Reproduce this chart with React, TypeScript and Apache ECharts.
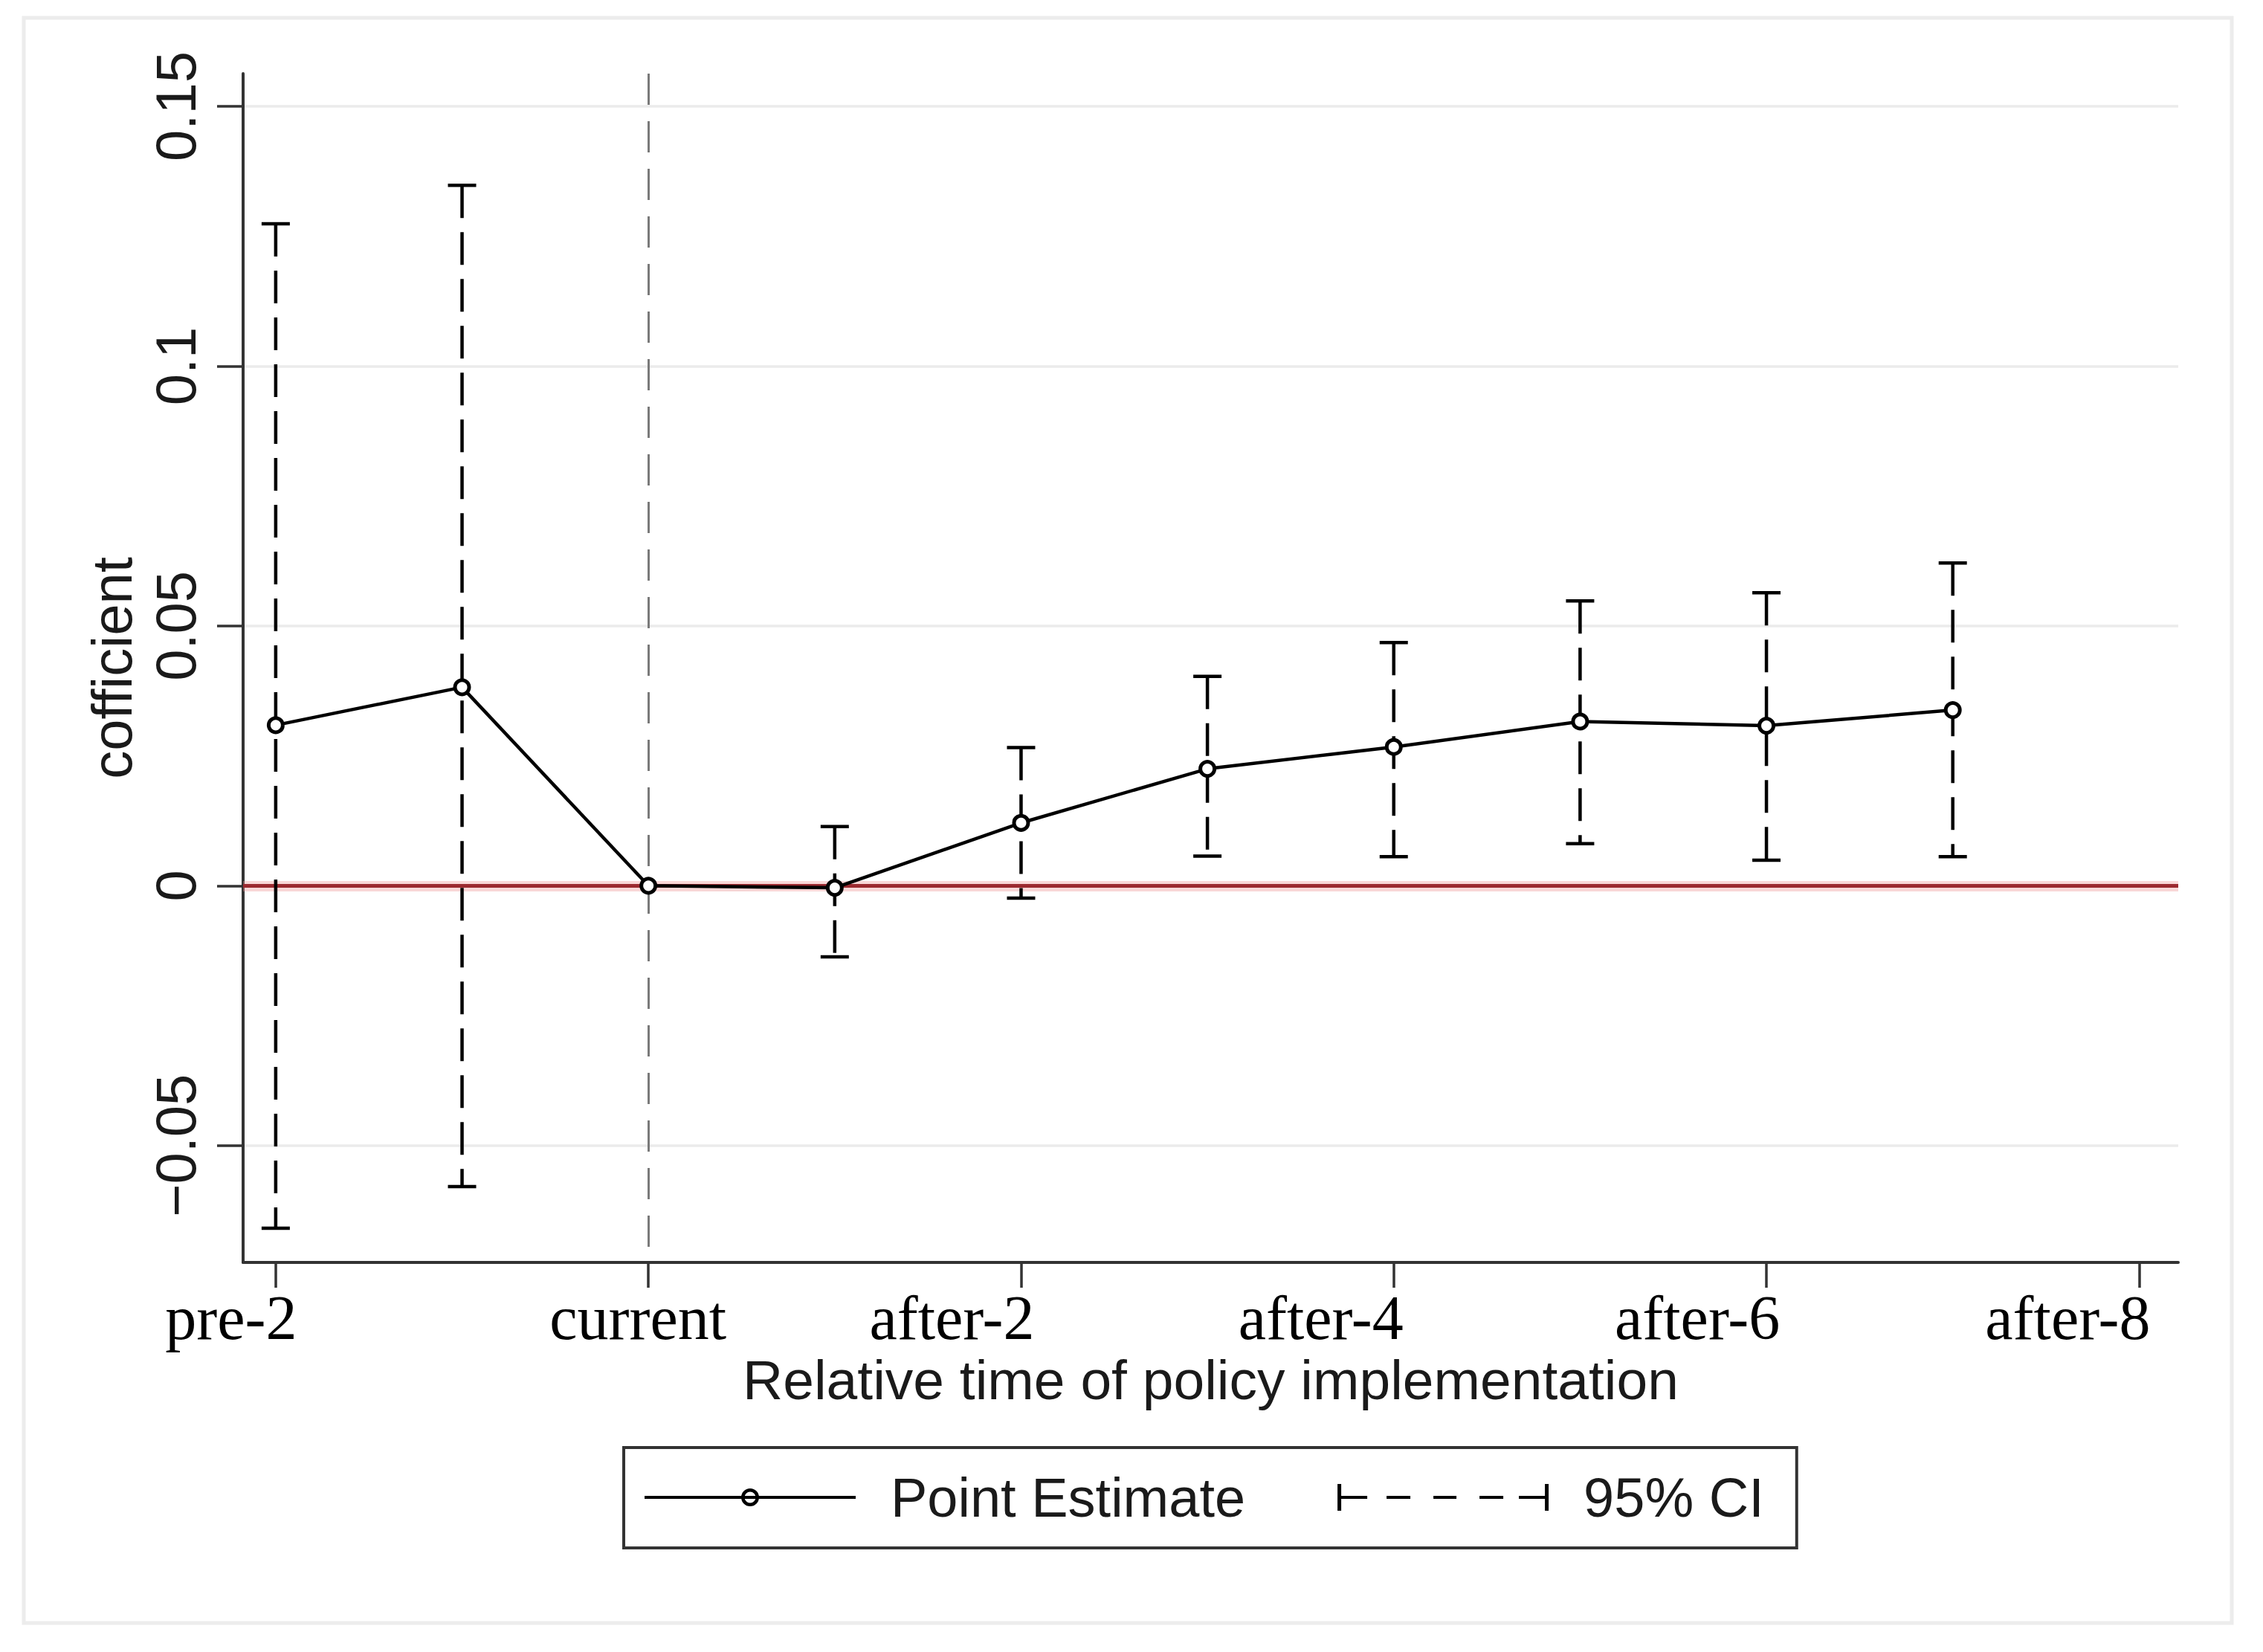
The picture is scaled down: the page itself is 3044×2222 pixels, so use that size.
import React, { useEffect, useRef } from "react";
import * as echarts from "echarts";

// ---- data ----
const periods = [-2, -1, 0, 1, 2, 3, 4, 5, 6, 7];
const pointEstimates = [0.0309, 0.0382, 0, -0.0004, 0.0121, 0.0225, 0.0267, 0.0316, 0.0308, 0.0338];
const ciPeriods = [-2, -1, 1, 2, 3, 4, 5, 6, 7];
const ciLower = [-0.0659, -0.0579, -0.0137, -0.0024, 0.0057, 0.0056, 0.0081, 0.0049, 0.0056];
const ciUpper = [0.1274, 0.1348, 0.0114, 0.0266, 0.0403, 0.0468, 0.0548, 0.0564, 0.0621];
const xTickValues = [-2, 0, 2, 4, 6, 8];
const xTickLabels = ["pre-2", "current", "after-2", "after-4", "after-6", "after-8"];
const yTickValues = [-0.05, 0, 0.05, 0.1, 0.15];
const yTickLabels = ["\u22120.05", "0", "0.05", "0.1", "0.15"];
const xRange = [-2.175, 8.21];
const yRange = [-0.0725, 0.1563];
const policyTime = 0;
const zeroEffect = 0;

// ---- styling ----
const SANS = "'Liberation Sans', Arial, sans-serif";
const SERIF = "'Liberation Serif', 'Times New Roman', serif";
const TEXT = "#1a1a1a";
const AXIS = "#333333";
const xLabelShift = [-60, -14, -93, -98, -93, -96];

const pePath =
  "path://M0 0L0.01 0L0 0.01Z M0 36L0.01 36L0 35.99Z M0 16H284V20H0Z " +
  "M130 18A12 12 0 1 1 154 18A12 12 0 1 1 130 18Z M134.5 18A7.5 7.5 0 1 0 149.5 18A7.5 7.5 0 1 0 134.5 18Z";
const ciPath =
  "path://M0 0H5V36H0Z M0 16H40V20H0Z M66 16H98V20H66Z M129 16H160V20H129Z " +
  "M191 16H223V20H191Z M244 16H284V20H244Z M279 0H284V36H279Z";

function findIdx(arr: number[], v: number) {
  return arr.findIndex((t) => Math.abs(t - v) < 1e-9);
}

const xRich: Record<string, any> = {};
xTickLabels.forEach((_, i) => {
  const s = xLabelShift[i];
  xRich["s" + i] = {
    fontFamily: SERIF,
    fontSize: 84,
    lineHeight: 84,
    color: "#000",
    padding: s < 0 ? [0, -2 * s, 0, 0] : [0, 0, 0, 2 * s],
  };
});

export default function App() {
  const ref = useRef<HTMLDivElement>(null);
  useEffect(() => {
    document.body.style.margin = "0";
    const chart = echarts.init(ref.current!, null, { renderer: "svg" });
    const option: any = {
      animation: false,
      backgroundColor: "#ffffff",
      color: ["#000000"],
      grid: { left: 327, right: 114, top: 99, bottom: 524, containLabel: false, outerBoundsMode: "none" },
      graphic: [
        {
          type: "rect",
          silent: true,
          z: -10,
          shape: { x: 32, y: 24, width: 2970, height: 2159 },
          style: { fill: "none", stroke: "#ececec", lineWidth: 5 },
        },
      ],
      legend: {
        show: true,
        orient: "horizontal",
        left: 839,
        top: 1947,
        padding: [27, 44, 28, 28],
        borderColor: AXIS,
        borderWidth: 4,
        backgroundColor: "#fff",
        itemWidth: 284,
        itemHeight: 36,
        itemGap: 124,
        selectedMode: false,
        textStyle: {
          fontFamily: SANS,
          fontSize: 74,
          color: TEXT,
          lineHeight: 80,
          padding: [0, 0, 0, 42],
        },
        data: [
          { name: "Point Estimate", icon: pePath, itemStyle: { color: "#000", borderWidth: 0, borderColor: "transparent" } },
          { name: "95% CI", icon: ciPath, itemStyle: { color: "#000", borderWidth: 0, borderColor: "transparent" } },
        ],
      },
      xAxis: {
        type: "value",
        min: xRange[0],
        max: xRange[1],
        name: "Relative time of policy implementation",
        nameLocation: "middle",
        nameGap: 119,
        nameTextStyle: { fontFamily: SANS, fontSize: 75, lineHeight: 75, color: TEXT },
        axisLine: { show: true, onZero: false, lineStyle: { color: AXIS, width: 4 } },
        axisTick: { show: true, customValues: xTickValues, length: 34, lineStyle: { color: AXIS, width: 3.5 } },
        axisLabel: {
          show: true,
          customValues: xTickValues,
          margin: 32,
          formatter: (v: number) => {
            const i = findIdx(xTickValues, v);
            return i >= 0 ? `{s${i}|${xTickLabels[i]}}` : "";
          },
          rich: xRich,
          fontFamily: SERIF,
          fontSize: 84,
          color: "#000",
        },
        splitLine: { show: false },
      },
      yAxis: {
        type: "value",
        min: yRange[0],
        max: yRange[1],
        name: "cofficient",
        nameLocation: "middle",
        nameGap: 139,
        nameRotate: 90,
        nameTextStyle: { fontFamily: SANS, fontSize: 76, lineHeight: 76, color: TEXT },
        axisLine: { show: true, onZero: false, lineStyle: { color: AXIS, width: 4 } },
        axisTick: { show: true, customValues: yTickValues, length: 35, lineStyle: { color: AXIS, width: 3.5 } },
        axisLabel: {
          show: true,
          customValues: yTickValues,
          rotate: 90,
          margin: 53,
          fontFamily: SANS,
          fontSize: 76,
          lineHeight: 76,
          color: TEXT,
          formatter: (v: number) => {
            const i = findIdx(yTickValues, v);
            return i >= 0 ? yTickLabels[i] : "";
          },
        },
        splitLine: { show: true, lineStyle: { color: "#ebebeb", width: 3.5 } },
      },
      series: [
        {
          type: "line",
          name: "reference",
          data: [],
          silent: true,
          z: 1,
          markLine: {
            z: 1,
            silent: true,
            animation: false,
            symbol: ["none", "none"],
            label: { show: false },
            emphasis: { disabled: true },
            data: [
              { yAxis: zeroEffect, lineStyle: { color: "rgba(238,140,140,0.35)", width: 14, type: "solid" } },
              { yAxis: zeroEffect, lineStyle: { color: "#9c2a30", width: 5, type: "solid" } },
              [
                { coord: [policyTime, yRange[1]], lineStyle: { color: "#7a7a7a", width: 3, type: [42, 22] } },
                { coord: [policyTime, yRange[0]] },
              ],
            ],
          },
        },
        {
          type: "custom",
          name: "95% CI",
          z: 3,
          silent: true,
          data: ciPeriods.map((p, i) => [p, ciLower[i], ciUpper[i]]),
          encode: { x: 0, y: [1, 2] },
          renderItem: (params: any, api: any) => {
            const x = api.value(0);
            const lo = api.value(1);
            const hi = api.value(2);
            const top = api.coord([x, hi]);
            const bot = api.coord([x, lo]);
            const half = 19;
            const capStyle = { stroke: "#000", lineWidth: 4.5 };
            return {
              type: "group",
              children: [
                {
                  type: "line",
                  shape: { x1: top[0], y1: top[1], x2: bot[0], y2: bot[1] },
                  style: { stroke: "#000", lineWidth: 4.5, lineDash: [44, 19] },
                },
                { type: "line", shape: { x1: top[0] - half, y1: top[1], x2: top[0] + half, y2: top[1] }, style: capStyle },
                { type: "line", shape: { x1: bot[0] - half, y1: bot[1], x2: bot[0] + half, y2: bot[1] }, style: capStyle },
              ],
            };
          },
        },
        {
          type: "line",
          name: "Point Estimate",
          z: 4,
          silent: true,
          data: periods.map((p, i) => [p, pointEstimates[i]]),
          symbol: "circle",
          symbolSize: 19,
          showSymbol: true,
          lineStyle: { color: "#000", width: 4.5 },
          itemStyle: { color: "#ffffff", borderColor: "#000", borderWidth: 5 },
          emphasis: { disabled: true },
        },
      ],
    };
    chart.setOption(option);
    return () => chart.dispose();
  }, []);
  return <div ref={ref} style={{ width: 3044, height: 2222 }} />;
}
